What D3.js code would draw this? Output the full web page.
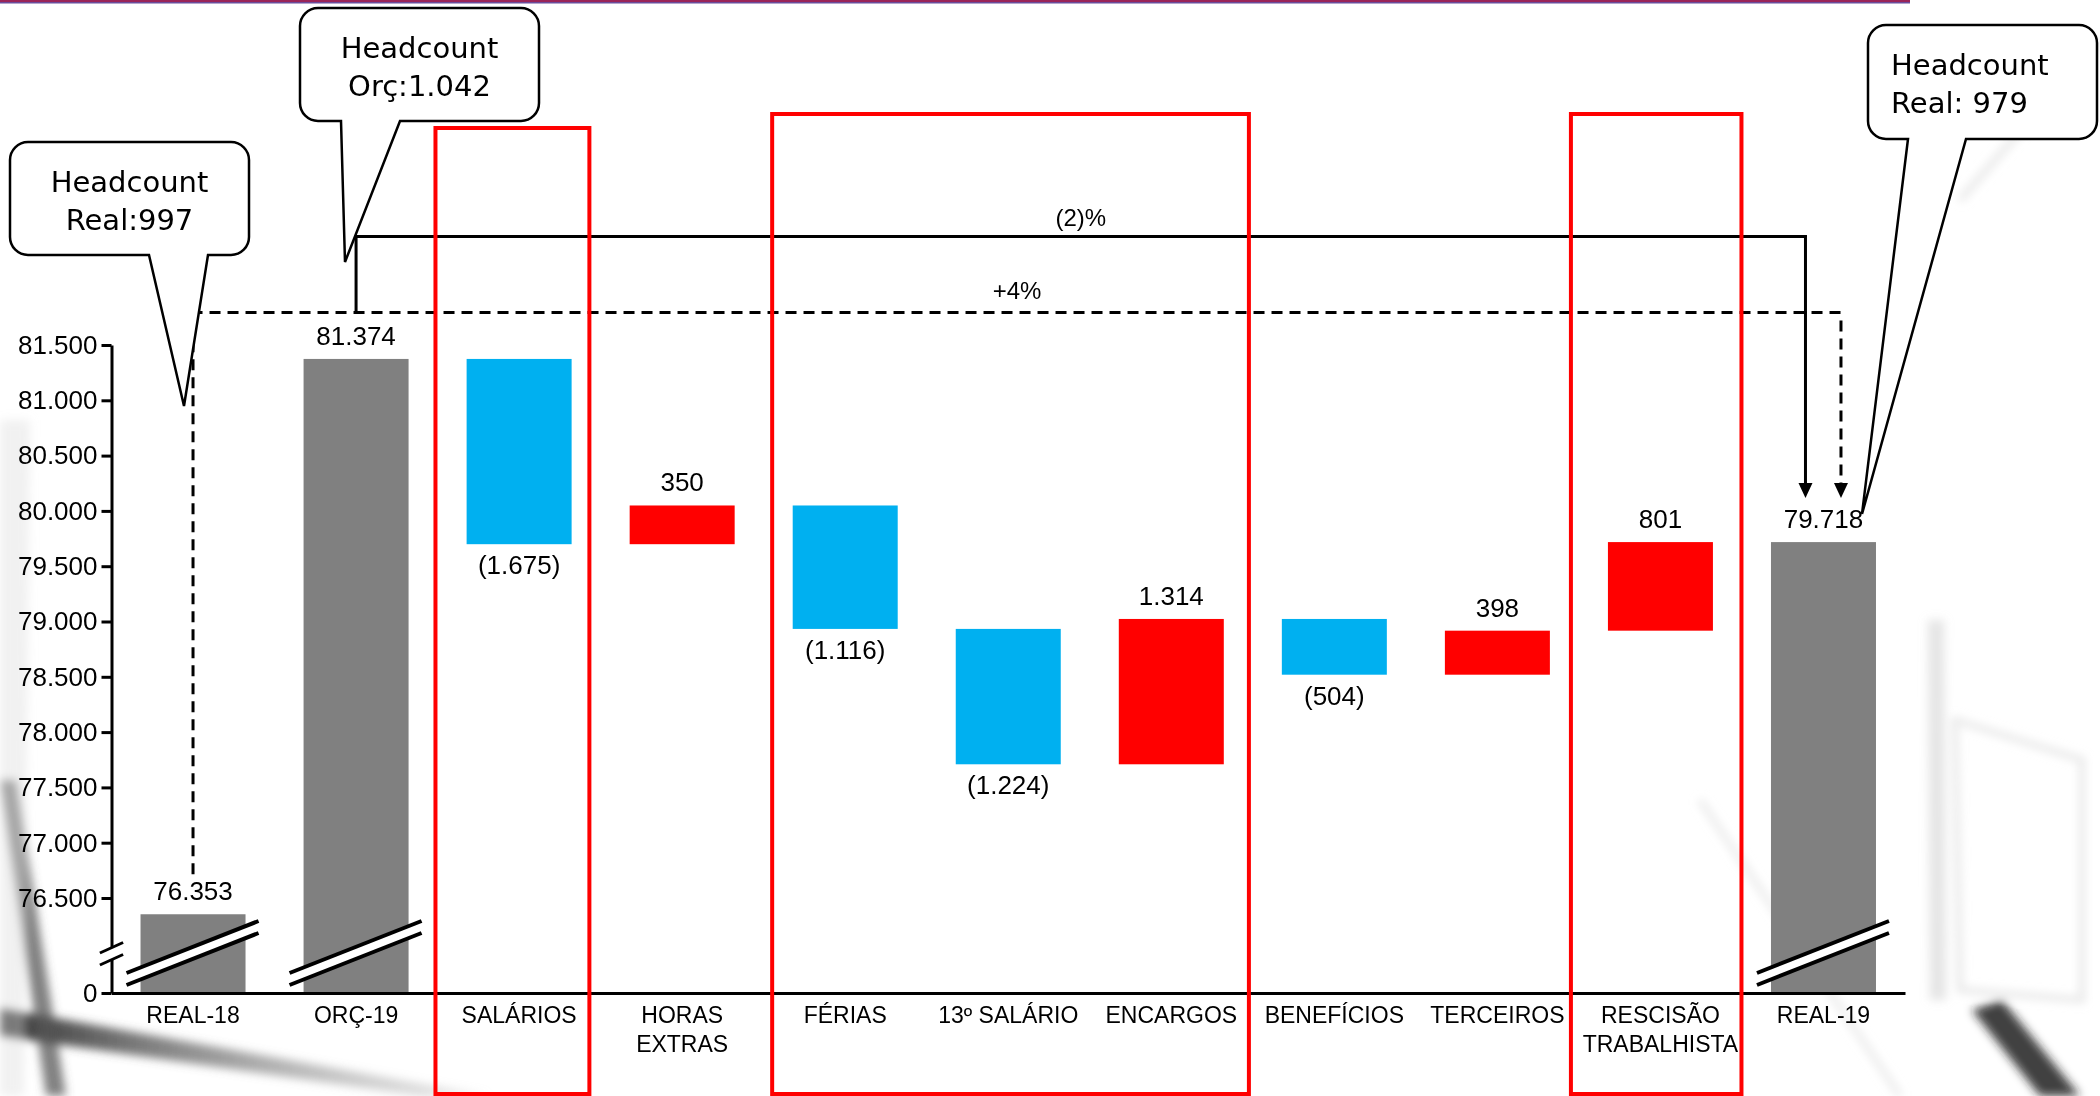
<!DOCTYPE html>
<html>
<head>
<meta charset="utf-8">
<script src="https://cdn.jsdelivr.net/npm/d3@7"></script>
<style>
  body { margin: 0; background: #fff; }
  svg { display: block; font-family: "Liberation Sans", Arial, sans-serif; }
  .callout text { font-family: "DejaVu Sans", Verdana, sans-serif; font-size: 29px; }
</style>
</head>
<body>
<script>
// --- data ---
var categories = ["REAL-18", "ORÇ-19", "SALÁRIOS", "HORAS\nEXTRAS", "FÉRIAS", "13º SALÁRIO",
                  "ENCARGOS", "BENEFÍCIOS", "TERCEIROS", "RESCISÃO\nTRABALHISTA", "REAL-19"];
var totalCats = ["REAL-18", "ORÇ-19", "REAL-19"];
var totalValues = [76353, 81374, 79718];
var deltaCats = ["SALÁRIOS", "HORAS\nEXTRAS", "FÉRIAS", "13º SALÁRIO", "ENCARGOS",
                 "BENEFÍCIOS", "TERCEIROS", "RESCISÃO\nTRABALHISTA"];
var deltaValues = [-1675, 350, -1116, -1224, 1314, -504, 398, 801];
var yTicks = [76500, 77000, 77500, 78000, 78500, 79000, 79500, 80000, 80500, 81000, 81500];
var bracketLabels = ["(2)%", "+4%"];
var headcountLines = [["Headcount", "Real:997"], ["Headcount", "Orç:1.042"], ["Headcount", "Real: 979"]];
var highlightGroups = [["SALÁRIOS", "SALÁRIOS"], ["FÉRIAS", "ENCARGOS"],
                       ["RESCISÃO\nTRABALHISTA", "RESCISÃO\nTRABALHISTA"]];

var W = 2100, H = 1096;
var plotBottom = 993, plotLeft = 111.5, plotRight = 1905;
var colors = { total: "#808080", down: "#00B0F0", up: "#FF0000" };
// hand-drawn highlight boxes: left/right reach in band steps, top in px
var boxStyle = [{ l: 0.513, r: 0.431, top: 128 }, { l: 0.448, r: 0.476, top: 114 }, { l: 0.549, r: 0.497, top: 114 }];

var loc = d3.formatLocale({ decimal: ",", thousands: ".", grouping: [3], currency: ["R$", ""] });
var fmt = loc.format(",d");

var svg = d3.select("body").append("svg").attr("width", W).attr("height", H);

// soft background (faded photo feel)
var defs = svg.append("defs");
defs.append("filter").attr("id", "soft").append("feGaussianBlur").attr("stdDeviation", 5);
var lg = defs.append("linearGradient").attr("id", "fadeL").attr("x1", 0).attr("x2", 1);
lg.append("stop").attr("offset", 0).attr("stop-color", "#333");
lg.append("stop").attr("offset", 1).attr("stop-color", "#bbb").attr("stop-opacity", 0.3);

var deco = svg.append("g").attr("filter", "url(#soft)");
deco.append("path").attr("d", "M0,1008 L0,1036 L420,1096 L490,1096 Z").attr("fill", "url(#fadeL)");
deco.append("path").attr("d", "M0,780 L16,780 L66,1096 L46,1096 Z").attr("fill", "#555").attr("opacity", 0.75);
deco.append("path").attr("d", "M0,420 L30,420 L24,1096 L0,1096 Z").attr("fill", "#ddd").attr("opacity", 0.4);
deco.append("path").attr("d", "M1972,1010 L2002,1000 L2080,1096 L2040,1096 Z").attr("fill", "#222").attr("opacity", 0.85);
deco.append("path").attr("d", "M1928,620 L1944,620 L1946,1000 L1930,1000 Z").attr("fill", "#ccc").attr("opacity", 0.5);
deco.append("path").attr("d", "M1955,720 L2082,760 L2082,1000 L1960,990 Z").attr("fill", "none")
  .attr("stroke", "#ddd").attr("stroke-width", 6).attr("opacity", 0.7);
deco.append("path").attr("d", "M1960,200 L2100,40").attr("stroke", "#e6e6e6").attr("stroke-width", 6);
deco.append("path").attr("d", "M1700,800 L1900,1096").attr("stroke", "#e6e6e6").attr("stroke-width", 5);

// top rule
svg.append("rect").attr("x", 0).attr("y", 0).attr("width", 1910).attr("height", 2).attr("fill", "#9a2458");
svg.append("rect").attr("x", 0).attr("y", 2).attr("width", 1910).attr("height", 1.5).attr("fill", "#6a4c9c");

// --- scales ---
var x = d3.scaleBand().domain(categories).range([plotLeft, plotRight])
  .paddingInner(0.356).paddingOuter(0.178);
var yRef = d3.scaleLinear().domain([76500, 81500]).range([898, 345]);
var base = yRef.invert(plotBottom);
var y = d3.scaleLinear().domain([base, 81500]).range([plotBottom, 345]);
var bw = x.bandwidth();
function cx(c) { return x(c) + bw / 2; }

// --- waterfall ---
var bars = [];
var run = 0;
categories.forEach(function(c) {
  var ti = totalCats.indexOf(c);
  if (ti >= 0) {
    run = totalValues[ti];
    bars.push({ cat: c, lo: base, hi: run, type: "total", value: run });
  } else {
    var v = deltaValues[deltaCats.indexOf(c)];
    var start = run;
    run = run + v;
    bars.push({ cat: c, lo: Math.min(start, run), hi: Math.max(start, run), type: v < 0 ? "down" : "up", value: v });
  }
});

function labelY(d) {
  return d.type === "down" ? y(d.lo) + 30 : y(d.hi) - 14;
}

// --- brackets: (2)% solid and +4% dashed ---
var lastCat = totalCats[2], budgetCat = totalCats[1], firstCat = totalCats[0];
var lastBar = bars[categories.indexOf(lastCat)];
var firstBar = bars[categories.indexOf(firstCat)];
var tipY = labelY(lastBar) - 30;
var solidY = 236.5, dashY = 312.5;
var solidX = cx(lastCat) - 18, dashX = cx(lastCat) + 17.5;

var br = svg.append("g").attr("fill", "none").attr("stroke", "#000").attr("stroke-width", 3);
br.append("path")
  .attr("d", "M" + cx(budgetCat) + "," + dashY + "V" + solidY + "H" + solidX + "V" + (tipY - 13));
br.append("path").attr("stroke-dasharray", "11,7")
  .attr("d", "M" + cx(firstCat) + "," + (labelY(firstBar) - 26) + "V" + (dashY + 4));
br.append("path").attr("stroke-dasharray", "11,7")
  .attr("d", "M" + (cx(firstCat) - 1.5) + "," + dashY + "H" + dashX);
br.append("path").attr("stroke-dasharray", "11,7")
  .attr("d", "M" + dashX + "," + (dashY + 8) + "V" + (tipY - 13));
[solidX, dashX].forEach(function(ax) {
  svg.append("path").attr("fill", "#000")
    .attr("d", "M" + (ax - 7) + "," + (tipY - 15) + "L" + (ax + 7) + "," + (tipY - 15) + "L" + ax + "," + tipY + "Z");
});
svg.append("text").attr("x", (cx(budgetCat) + solidX) / 2).attr("y", solidY - 11)
  .attr("text-anchor", "middle").attr("font-size", 24).text(bracketLabels[0]);
svg.append("text").attr("x", (cx(firstCat) + dashX) / 2).attr("y", dashY - 14)
  .attr("text-anchor", "middle").attr("font-size", 24).text(bracketLabels[1]);

// --- bars ---
svg.append("g").selectAll("rect").data(bars).join("rect")
  .attr("x", function(d) { return x(d.cat); })
  .attr("y", function(d) { return y(d.hi); })
  .attr("width", bw)
  .attr("height", function(d) { return y(d.lo) - y(d.hi); })
  .attr("fill", function(d) { return colors[d.type]; });

svg.append("g").selectAll("text").data(bars).join("text")
  .attr("x", function(d) { return cx(d.cat); })
  .attr("y", labelY)
  .attr("text-anchor", "middle").attr("font-size", 26)
  .text(function(d) { return d.value < 0 ? "(" + fmt(-d.value) + ")" : fmt(d.value); });

// break marks on the total bars
bars.filter(function(d) { return d.type === "total"; }).forEach(function(d) {
  var x0 = x(d.cat) - 14, x1 = x(d.cat) + bw + 13;
  var yl = plotBottom - 8, yr = plotBottom - 60, gap = 12;
  var g = svg.append("g");
  g.append("path").attr("fill", "#fff")
    .attr("d", "M" + x0 + "," + yl + "L" + x1 + "," + yr + "L" + x1 + "," + (yr - gap) + "L" + x0 + "," + (yl - gap) + "Z");
  [0, gap].forEach(function(o) {
    g.append("line").attr("x1", x0).attr("y1", yl - o).attr("x2", x1).attr("y2", yr - o)
      .attr("stroke", "#000").attr("stroke-width", 4);
  });
});

// --- axes ---
var yAxis = d3.axisLeft(y).tickValues([base].concat(yTicks))
  .tickFormat(function(d) { return d === base ? "0" : fmt(d); })
  .tickSize(10).tickPadding(4).tickSizeOuter(0);
var gy = svg.append("g").attr("transform", "translate(" + plotLeft + ",0)").call(yAxis);
gy.selectAll("path, line").attr("stroke", "#000").attr("stroke-width", 3);
gy.selectAll("text").attr("font-size", 26).attr("fill", "#000")
  .attr("font-family", "'Liberation Sans', Arial, sans-serif");

var xAxis = d3.axisBottom(x).tickSize(0).tickSizeOuter(0).tickFormat("");
var gx = svg.append("g").attr("transform", "translate(0," + plotBottom + ")").call(xAxis);
gx.select(".domain").attr("stroke", "#000").attr("stroke-width", 3);
gx.selectAll(".tick").each(function(c) {
  var t = d3.select(this).append("text").attr("fill", "#000").attr("font-size", 23)
    .attr("text-anchor", "middle").attr("font-family", "'Liberation Sans', Arial, sans-serif");
  c.split("\n").forEach(function(line, i) {
    t.append("tspan").attr("x", 0).attr("y", 30 + i * 29).text(line);
  });
});

// y-axis break
(function() {
  var ax = plotLeft, yl = plotBottom - 28, gap = 12, dx = 11.6, dy = 10.5;
  svg.append("path").attr("fill", "#fff")
    .attr("d", "M" + (ax - dx) + "," + yl + "L" + (ax + dx) + "," + (yl - dy) + "L" + (ax + dx) + "," + (yl - dy - gap) +
      "L" + (ax - dx) + "," + (yl - gap) + "Z");
  [0, gap].forEach(function(o) {
    svg.append("line").attr("x1", ax - dx).attr("y1", yl - o).attr("x2", ax + dx).attr("y2", yl - dy - o)
      .attr("stroke", "#000").attr("stroke-width", 3);
  });
})();

// --- highlight boxes ---
svg.append("g").selectAll("rect").data(highlightGroups).join("rect")
  .attr("x", function(d, i) { return cx(d[0]) - boxStyle[i].l * x.step(); })
  .attr("y", function(d, i) { return boxStyle[i].top; })
  .attr("width", function(d, i) { return cx(d[1]) - cx(d[0]) + (boxStyle[i].l + boxStyle[i].r) * x.step(); })
  .attr("height", function(d, i) { return 1094 - boxStyle[i].top; })
  .attr("fill", "none").attr("stroke", "#FF0000").attr("stroke-width", 4);

// --- headcount callouts ---
var calloutBoxes = [
  { x0: 10, y0: 142, x1: 249, y1: 255, base: [149, 208], tip: [184, 406], anchor: "middle" },
  { x0: 300, y0: 8, x1: 539, y1: 121, base: [341, 400], tip: [345, 262], anchor: "middle" },
  { x0: 1868, y0: 25, x1: 2097, y1: 139, base: [1908, 1966], tip: [1862, 514], anchor: "start" }
];
function calloutPath(b) {
  var r = 18;
  return "M" + (b.x0 + r) + "," + b.y0 + "H" + (b.x1 - r) +
    "A" + r + "," + r + " 0 0 1 " + b.x1 + "," + (b.y0 + r) +
    "V" + (b.y1 - r) + "A" + r + "," + r + " 0 0 1 " + (b.x1 - r) + "," + b.y1 +
    "H" + b.base[1] + "L" + b.tip[0] + "," + b.tip[1] + "L" + b.base[0] + "," + b.y1 +
    "H" + (b.x0 + r) + "A" + r + "," + r + " 0 0 1 " + b.x0 + "," + (b.y1 - r) +
    "V" + (b.y0 + r) + "A" + r + "," + r + " 0 0 1 " + (b.x0 + r) + "," + b.y0 + "Z";
}
var co = svg.append("g").attr("class", "callout").selectAll("g").data(calloutBoxes).join("g");
co.append("path").attr("d", calloutPath).attr("fill", "#fff").attr("stroke", "#000").attr("stroke-width", 2.5);
co.each(function(b, i) {
  var g = d3.select(this);
  headcountLines[i].forEach(function(line, j) {
    g.append("text")
      .attr("x", b.anchor === "middle" ? (b.x0 + b.x1) / 2 : b.x0 + 23)
      .attr("y", b.y0 + 50 + j * 38)
      .attr("text-anchor", b.anchor).attr("fill", "#000").text(line);
  });
});
</script>
</body>
</html>
